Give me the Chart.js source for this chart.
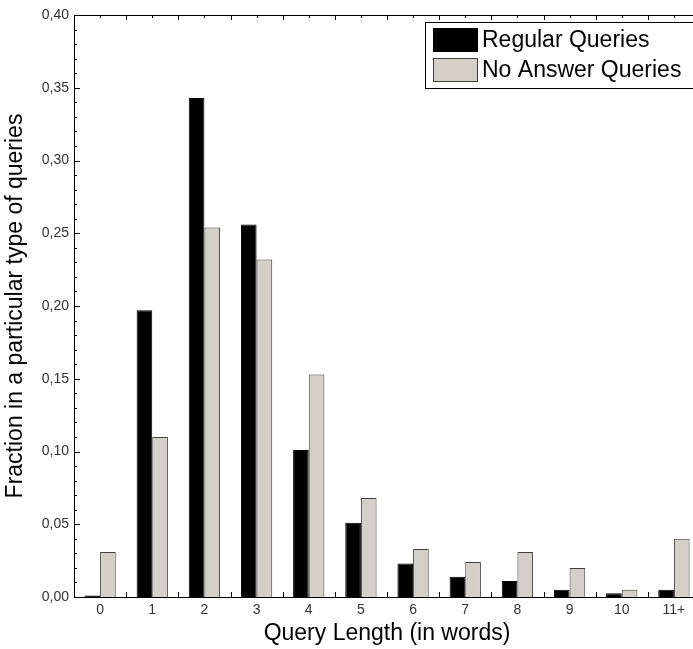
<!DOCTYPE html>
<html>
<head>
<meta charset="utf-8">
<script src="https://cdn.jsdelivr.net/npm/chart.js@4/dist/chart.umd.min.js"></script>
<style>
  html, body { margin: 0; padding: 0; overflow: hidden; background: #fff; }
  #wrap { width: 700px; height: 649px; }
</style>
</head>
<body>
<div id="wrap"><canvas id="chart" width="700" height="649"></canvas></div>
<script>
// Data
const categories = ['0', '1', '2', '3', '4', '5', '6', '7', '8', '9', '10', '11+'];
const regularQueries = [0.001, 0.197, 0.343, 0.256, 0.101, 0.051, 0.023, 0.014, 0.011, 0.005, 0.0025, 0.005];
const noAnswerQueries = [0.031, 0.110, 0.254, 0.232, 0.153, 0.068, 0.033, 0.024, 0.031, 0.020, 0.005, 0.040];
const yMin = 0;
const yMax = 0.40;
const yMajorStep = 0.05;
const yMinorStep = 0.01;

const fontFamily = 'Arial, "Liberation Sans", sans-serif';

// Axis frame with inward ticks (major + minor), top axis included
const framePlugin = {
    id: 'frame',
    beforeDatasetsDraw(chart) {
        const ctx = chart.ctx;
        const x = chart.scales.x;
        const y = chart.scales.y;
        const area = chart.chartArea;
        const n = categories.length;
        const step = (area.right - area.left) / n;
        ctx.save();
        ctx.strokeStyle = '#000';
        ctx.lineWidth = 1;
        ctx.beginPath();
        // y ticks
        const count = Math.round((yMax - yMin) / yMinorStep);
        for (let i = 0; i <= count; i++) {
            const v = yMin + i * yMinorStep;
            const py = Math.round(y.getPixelForValue(v)) + 0.5;
            const len = (i % 5 === 0) ? 6 : 3;
            ctx.moveTo(area.left, py);
            ctx.lineTo(area.left + len, py);
        }
        // x ticks at category boundaries (bottom) and boundaries + centres (top)
        for (let i = 1; i < n; i++) {
            const px = Math.round(area.left + i * step) + 0.5;
            ctx.moveTo(px, area.bottom);
            ctx.lineTo(px, area.bottom - 5);
            ctx.moveTo(px, area.top);
            ctx.lineTo(px, area.top + 5);
        }
        for (let i = 0; i < n; i++) {
            const px = Math.round(x.getPixelForValue(i)) + 0.5;
            ctx.moveTo(px, area.top);
            ctx.lineTo(px, area.top + 3);
        }
        ctx.stroke();
        ctx.restore();
    },
    afterDatasetsDraw(chart) {
        const ctx = chart.ctx;
        const area = chart.chartArea;
        ctx.save();
        ctx.strokeStyle = '#000';
        ctx.lineWidth = 1;
        ctx.beginPath();
        const l = Math.round(area.left) + 0.5;
        const t = Math.round(area.top) + 0.5;
        const b = Math.round(area.bottom) + 0.5;
        ctx.moveTo(l, t);
        ctx.lineTo(area.right, t);
        ctx.moveTo(l, t);
        ctx.lineTo(l, b);
        ctx.lineTo(area.right, b);
        ctx.stroke();
        ctx.restore();
    }
};

// Boxed legend inside the plot, top right
const boxLegendPlugin = {
    id: 'boxLegend',
    afterDraw(chart) {
        const ctx = chart.ctx;
        const left = 425, top = 22, width = 300, height = 66;
        ctx.save();
        ctx.fillStyle = '#fff';
        ctx.fillRect(left, top, width, height);
        ctx.strokeStyle = '#000';
        ctx.lineWidth = 1;
        ctx.strokeRect(left + 0.5, top + 0.5, width, height);
        ctx.font = '23px ' + fontFamily;
        ctx.textBaseline = 'middle';
        ctx.textAlign = 'left';
        chart.data.datasets.forEach((ds, i) => {
            const sy = top + 6 + i * 30;
            ctx.fillStyle = ds.backgroundColor;
            ctx.fillRect(433, sy, 45, 24);
            ctx.strokeStyle = ds.borderColor;
            ctx.strokeRect(433.5, sy + 0.5, 44, 23);
            ctx.fillStyle = '#000';
            ctx.fillText(ds.label, 482, sy + 13);
        });
        ctx.restore();
    }
};

new Chart(document.getElementById('chart').getContext('2d'), {
    type: 'bar',
    data: {
        labels: categories,
        datasets: [{
            label: 'Regular Queries',
            data: regularQueries,
            backgroundColor: '#000000',
            borderColor: '#000000',
            borderWidth: 1,
            categoryPercentage: 0.6,
            barPercentage: 1.0
        }, {
            label: 'No Answer Queries',
            data: noAnswerQueries,
            backgroundColor: '#d4d0c8',
            borderColor: '#404040',
            borderWidth: 1,
            categoryPercentage: 0.6,
            barPercentage: 1.0
        }]
    },
    options: {
        responsive: false,
        animation: false,
        layout: { padding: { top: 15, right: 0, left: 0, bottom: 0 } },
        plugins: {
            legend: { display: false },
            tooltip: { enabled: false }
        },
        scales: {
            x: {
                grid: { display: false, drawTicks: false },
                border: { display: false },
                ticks: { color: '#333', padding: 5, font: { family: fontFamily, size: 14 } },
                title: {
                    display: true,
                    text: 'Query Length (in words)',
                    color: '#000',
                    font: { family: fontFamily, size: 23 },
                    padding: { top: 0, bottom: 2 }
                },
                afterFit(scale) {
                    scale.height = 52;
                    scale.paddingLeft = 0;
                    scale.paddingRight = 0;
                }
            },
            y: {
                min: yMin,
                max: yMax,
                grid: { display: false, drawTicks: false },
                border: { display: false },
                ticks: {
                    stepSize: yMajorStep,
                    color: '#333',
                    padding: 5,
                    font: { family: fontFamily, size: 14 },
                    callback: v => v.toFixed(2).replace('.', ',')
                },
                title: {
                    display: true,
                    text: 'Fraction in a particular type of queries',
                    color: '#000',
                    font: { family: fontFamily, size: 23 },
                    padding: { top: 2, bottom: 0 }
                },
                afterFit(scale) {
                    scale.width = 74;
                    scale.paddingTop = 0;
                    scale.paddingBottom = 0;
                }
            }
        }
    },
    plugins: [framePlugin, boxLegendPlugin]
});
</script>
</body>
</html>
